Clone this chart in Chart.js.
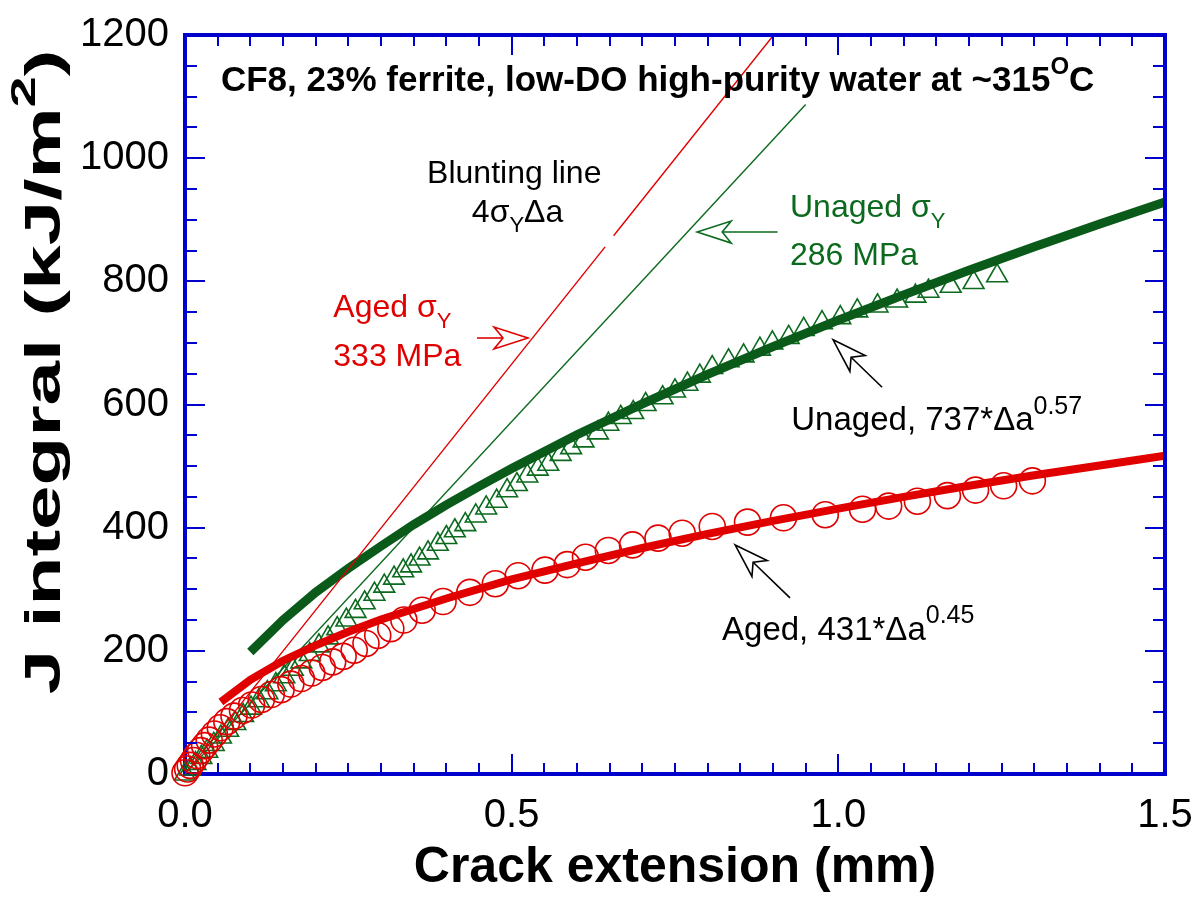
<!DOCTYPE html>
<html>
<head>
<meta charset="utf-8">
<title>J-R curves, CF8 cast stainless steel</title>
<script src="https://cdn.jsdelivr.net/npm/chart.js@4.4.1/dist/chart.umd.min.js"></script>
<style>
  html, body { margin: 0; padding: 0; background: #fff; }
  #wrap { width: 1198px; height: 898px; }
</style>
</head>
<body>
<div id="wrap"><canvas id="jr" width="1198" height="898"></canvas></div>
<script>
const FONT = 'Arial, "Liberation Sans", Helvetica, sans-serif';
const BLUE = '#0000cc';
const RED = '#e00000';
const GREEN = '#0b6a1e';
const GREEN_FIT = '#0a5a1a';

// axis ticks (labelled)
const xTicks = [0, 0.5, 1.0, 1.5];
const yTicks = [0, 200, 400, 600, 800, 1000, 1200];

// aged specimen, measured J-R points (mm, kJ/m2)
const agedDa = [0.000, 0.004, 0.008, 0.013, 0.018, 0.024, 0.030, 0.037, 0.045, 0.054,
  0.064, 0.075, 0.088, 0.102, 0.117, 0.132, 0.147, 0.162, 0.178, 0.194,
  0.210, 0.226, 0.242, 0.259, 0.277, 0.295, 0.315, 0.335, 0.363, 0.395,
  0.436, 0.475, 0.510, 0.551, 0.585, 0.613, 0.648, 0.685, 0.724, 0.761,
  0.807, 0.861, 0.916, 0.980, 1.037, 1.077, 1.121, 1.167, 1.210, 1.253, 1.297];
const agedJ = [2, 8, 14, 22, 30, 38, 46, 55, 65, 75,
  85, 94, 103, 112, 121, 129, 137, 146, 155, 164,
  173, 182, 191, 201, 212, 225, 236, 250, 266, 280,
  295, 309, 322, 331, 340, 352, 363, 372, 383, 391,
  402, 409, 416, 421, 430, 435, 443, 452, 461, 468, 476];

// unaged specimen, measured J-R points
const unagedDa = [0.000, 0.008, 0.016, 0.025, 0.034, 0.044, 0.055, 0.066, 0.077, 0.089,
  0.101, 0.113, 0.126, 0.139, 0.152, 0.165, 0.178, 0.191, 0.205, 0.219,
  0.233, 0.247, 0.261, 0.275, 0.290, 0.305, 0.320, 0.334, 0.346, 0.359,
  0.372, 0.387, 0.400, 0.413, 0.429, 0.445, 0.461, 0.477, 0.493, 0.508,
  0.524, 0.540, 0.556, 0.575, 0.591, 0.610, 0.632, 0.648, 0.667, 0.686,
  0.705, 0.731, 0.750, 0.769, 0.788, 0.807, 0.832, 0.855, 0.880, 0.899,
  0.924, 0.947, 0.975, 1.003, 1.029, 1.060, 1.090, 1.118, 1.138, 1.172,
  1.207, 1.243];
const unagedJ = [0, 8, 17, 27, 37, 48, 60, 71, 82, 95,
  107, 119, 132, 145, 158, 170, 182, 194, 208, 221,
  236, 250, 264, 278, 292, 305, 318, 330, 338, 349,
  359, 373, 384, 395, 405, 419, 432, 443, 460, 470,
  484, 495, 503, 519, 530, 541, 554, 568, 579, 587,
  600, 611, 622, 633, 646, 660, 671, 679, 690, 700,
  709, 722, 733, 741, 752, 760, 768, 776, 784, 792,
  798, 809];

// power-law fits: unaged 737*da^0.57, aged 431*da^0.45
const unagedFitDa = [0.10, 0.15, 0.20, 0.25, 0.30, 0.35, 0.40, 0.45, 0.50, 0.60,
  0.70, 0.80, 0.90, 1.00, 1.10, 1.20, 1.30, 1.40, 1.50];
const unagedFitJ = [198, 250, 295, 334, 370, 405, 437, 467, 496, 551,
  601, 649, 694, 737, 778, 818, 856, 893, 929];
const agedFitDa = [0.055, 0.10, 0.15, 0.20, 0.25, 0.30, 0.40, 0.50, 0.60, 0.70,
  0.80, 0.90, 1.00, 1.10, 1.20, 1.30, 1.40, 1.50];
const agedFitJ = [117, 153, 184, 209, 231, 251, 285, 316, 342, 367,
  390, 411, 431, 450, 468, 485, 501, 517];

// blunting lines 4*sigmaY*da (aged 333 MPa, unaged 286 MPa); null = break behind label
const bluntAgedDa = [0, 0.643, 0.650, 0.656, 0.901];
const bluntAgedJ = [0, 856, null, 874, 1200];
const bluntUnagedDa = [0, 0.950];
const bluntUnagedJ = [0, 1087];

const pts = (xs, ys) => xs.map((v, i) => ({ x: v, y: ys[i] }));

// rich text: runs of [text, ''|'sub'|'sup']; stretch widens along the baseline
function drawRuns(ctx, runs, x, y, size, weight, color, align, opts = {}) {
  const supScale = opts.supScale || 0.7;
  const stretch = opts.stretch || 1;
  const fontFor = k => `${weight} ${k ? Math.round(size * supScale) : size}px ${FONT}`;
  let total = 0;
  runs.forEach(([t, k]) => { ctx.font = fontFor(k); total += ctx.measureText(t).width; });
  ctx.save();
  ctx.translate(x, y);
  ctx.scale(stretch, 1);
  let cx = align === 'center' ? -total / 2 : 0;
  ctx.fillStyle = color;
  ctx.textAlign = 'left';
  ctx.textBaseline = 'alphabetic';
  runs.forEach(([t, k]) => {
    ctx.font = fontFor(k);
    const dy = k === 'sub' ? size * 0.34 : k === 'sup' ? -size * 0.5 : 0;
    ctx.fillText(t, cx, dy);
    cx += ctx.measureText(t).width;
  });
  ctx.restore();
}

// open arrow with notched head, tip at (x2, y2)
function arrow(ctx, x1, y1, x2, y2, color) {
  const ang = Math.atan2(y2 - y1, x2 - x1);
  const L = 34, W = 11, N = 25;
  const bx = x2 - Math.cos(ang) * N, by = y2 - Math.sin(ang) * N;
  const px = -Math.sin(ang), py = Math.cos(ang);
  const cx = x2 - Math.cos(ang) * L, cy = y2 - Math.sin(ang) * L;
  ctx.save();
  ctx.strokeStyle = color;
  ctx.lineWidth = 1.6;
  ctx.beginPath();
  ctx.moveTo(x1, y1);
  ctx.lineTo(bx, by);
  ctx.stroke();
  ctx.beginPath();
  ctx.moveTo(x2, y2);
  ctx.lineTo(cx + px * W, cy + py * W);
  ctx.lineTo(bx, by);
  ctx.lineTo(cx - px * W, cy - py * W);
  ctx.closePath();
  ctx.fillStyle = '#fff';
  ctx.fill();
  ctx.stroke();
  ctx.restore();
}

const notes = {
  id: 'notes',
  afterDraw(chart) {
    const { ctx, chartArea: a, scales: { x, y } } = chart;
    const X = v => x.getPixelForValue(v);
    const Y = v => y.getPixelForValue(v);
    ctx.save();

    // frame top/right and inward ticks on all four sides
    ctx.strokeStyle = BLUE;
    ctx.lineWidth = 4;
    ctx.beginPath();
    ctx.moveTo(a.left - 2, a.top);
    ctx.lineTo(a.right, a.top);
    ctx.lineTo(a.right, a.bottom + 2);
    ctx.stroke();
    ctx.lineWidth = 2;
    ctx.beginPath();
    for (let i = 1; i < 30; i++) {
      const px = Math.round(X(i * 0.05));
      const len = i % 10 === 0 ? 20 : 11;
      ctx.moveTo(px, a.bottom); ctx.lineTo(px, a.bottom - len);
      ctx.moveTo(px, a.top); ctx.lineTo(px, a.top + len);
    }
    for (let i = 1; i < 24; i++) {
      const py = Math.round(Y(i * 50));
      const len = i % 4 === 0 ? 20 : 12;
      ctx.moveTo(a.left, py); ctx.lineTo(a.left + len, py);
      ctx.moveTo(a.right, py); ctx.lineTo(a.right - len, py);
    }
    ctx.stroke();

    // y axis title
    ctx.save();
    ctx.translate(42, 372);
    ctx.rotate(-Math.PI / 2);
    drawRuns(ctx, [['J integral (kJ/m', ''], ['2', 'sup'], [')', '']], 0, 18, 50, 'bold', '#000', 'center',
      { supScale: 0.7, stretch: 1.6 });
    ctx.restore();

    drawRuns(ctx, [['CF8, 23% ferrite, low-DO high-purity water at ~315', ''], ['O', 'sup'], ['C', '']],
      X(0.055), Y(1109), 35, 'bold', '#000', 'left', { supScale: 0.68 });

    drawRuns(ctx, [['Blunting line', '']], X(0.504), Y(960), 32, 'normal', '#000', 'center');
    drawRuns(ctx, [['4\u03c3', ''], ['Y', 'sub'], ['\u0394a', '']], X(0.509), Y(897), 32, 'normal', '#000', 'center');

    drawRuns(ctx, [['Unaged \u03c3', ''], ['Y', 'sub']], X(0.926), Y(905), 32, 'normal', GREEN, 'left');
    drawRuns(ctx, [['286 MPa', '']], X(0.926), Y(827), 32, 'normal', GREEN, 'left');
    drawRuns(ctx, [['Aged \u03c3', ''], ['Y', 'sub']], X(0.227), Y(742), 32, 'normal', RED, 'left');
    drawRuns(ctx, [['333 MPa', '']], X(0.227), Y(662), 32, 'normal', RED, 'left');

    drawRuns(ctx, [['Unaged, 737*\u0394a', ''], ['0.57', 'sup']], X(0.928), Y(558), 33, 'normal', '#000', 'left',
      { supScale: 0.75 });
    drawRuns(ctx, [['Aged, 431*\u0394a', ''], ['0.45', 'sup']], X(0.822), Y(218), 33, 'normal', '#000', 'left',
      { supScale: 0.75 });

    arrow(ctx, X(0.447), Y(708), X(0.525), Y(708), RED);
    arrow(ctx, X(0.907), Y(880), X(0.784), Y(880), GREEN);
    arrow(ctx, X(1.067), Y(628), X(0.992), Y(705), '#000');
    arrow(ctx, X(0.926), Y(286), X(0.842), Y(372), '#000');

    ctx.restore();
  }
};

new Chart(document.getElementById('jr'), {
  type: 'scatter',
  data: {
    datasets: [
      {
        label: 'Aged fit',
        data: pts(agedFitDa, agedFitJ),
        showLine: true, pointRadius: 0, borderColor: RED, borderWidth: 8,
        borderCapStyle: 'butt', order: 1
      },
      {
        label: 'Aged blunting',
        data: pts(bluntAgedDa, bluntAgedJ),
        showLine: true, spanGaps: false, pointRadius: 0, borderColor: RED, borderWidth: 1.4, order: 2
      },
      {
        label: 'Aged',
        data: pts(agedDa, agedJ),
        pointStyle: 'circle', pointRadius: 13, pointBorderWidth: 1.6,
        borderColor: RED, backgroundColor: 'rgba(0,0,0,0)', clip: false, order: 3
      },
      {
        label: 'Unaged fit',
        data: pts(unagedFitDa, unagedFitJ),
        showLine: true, pointRadius: 0, borderColor: GREEN_FIT, borderWidth: 9,
        borderCapStyle: 'butt', order: 4
      },
      {
        label: 'Unaged',
        data: pts(unagedDa, unagedJ),
        pointStyle: 'triangle', pointRadius: 12, pointBorderWidth: 1.6,
        borderColor: GREEN, backgroundColor: 'rgba(0,0,0,0)', clip: false, order: 5
      },
      {
        label: 'Unaged blunting',
        data: pts(bluntUnagedDa, bluntUnagedJ),
        showLine: true, pointRadius: 0, borderColor: GREEN, borderWidth: 1.4, order: 6
      }
    ]
  },
  options: {
    responsive: false,
    animation: false,
    layout: { padding: { top: 35, right: 33, bottom: 0, left: 0 } },
    plugins: { legend: { display: false }, tooltip: { enabled: false } },
    scales: {
      x: {
        type: 'linear', min: 0, max: 1.5,
        afterFit: s => { s.height = 124; s.paddingLeft = 0; s.paddingRight = 0; },
        afterBuildTicks: s => { s.ticks = xTicks.map(v => ({ value: v })); },
        ticks: { color: '#000', font: { family: FONT, size: 40 }, padding: 18, callback: v => v.toFixed(1) },
        grid: { display: false, drawTicks: false },
        border: { color: BLUE, width: 4 },
        title: { display: true, text: 'Crack extension (mm)', color: '#000', font: { family: FONT, size: 50, weight: 'bold' }, padding: { top: 0, bottom: 0 } }
      },
      y: {
        type: 'linear', min: 0, max: 1200,
        afterFit: s => { s.width = 185; s.paddingTop = 0; s.paddingBottom = 0; },
        afterBuildTicks: s => { s.ticks = yTicks.map(v => ({ value: v })); },
        ticks: { color: '#000', font: { family: FONT, size: 40 }, padding: 16, callback: v => String(v) },
        grid: { display: false, drawTicks: false },
        border: { color: BLUE, width: 4 }
      }
    }
  },
  plugins: [notes]
});
</script>
</body>
</html>
